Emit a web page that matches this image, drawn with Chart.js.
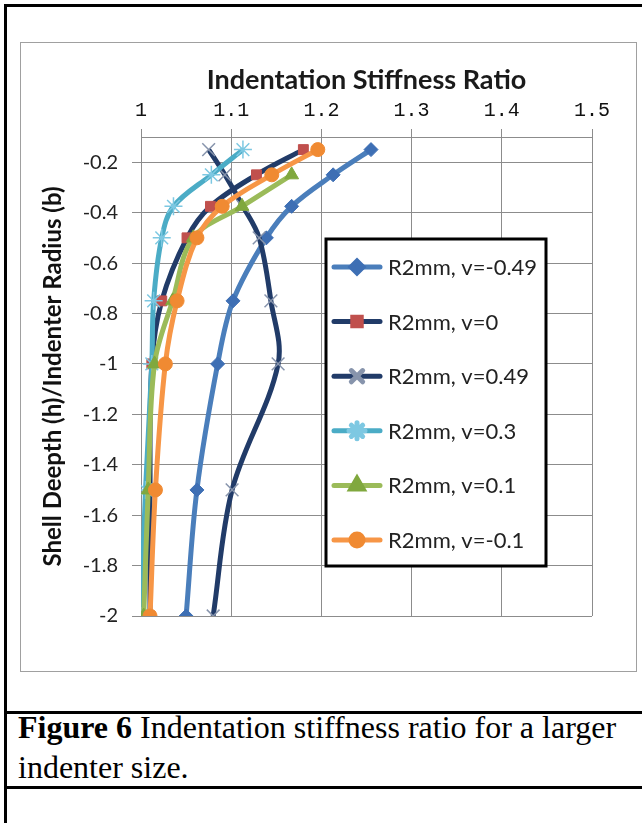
<!DOCTYPE html>
<html>
<head>
<meta charset="utf-8">
<script src="https://cdn.jsdelivr.net/npm/chart.js@4.4.1/dist/chart.umd.min.js"></script>
<style>
  html, body { margin: 0; padding: 0; background: #fff; }
  body { width: 642px; height: 823px; position: relative; overflow: hidden; }
  .frame { position: absolute; left: 4px; top: 4px; width: 800px; height: 900px;
           border-left: 3px solid #000; border-top: 3px solid #000; }
  .rule { position: absolute; left: 4px; width: 800px; height: 3px; background: #000; }
  .box { position: absolute; left: 20px; top: 42px; width: 617px; height: 630px;
         border: 1px solid #a0a0a0; box-sizing: border-box; background: #fff; }
  .box canvas { position: absolute; left: -1px; top: -1px; }
  .caption { position: absolute; left: 18px; top: 707px; font-family: 'Liberation Serif', serif;
             font-size: 32px; line-height: 40px; color: #000; white-space: nowrap; }
</style>
</head>
<body>
<div class="frame"></div>
<div class="box"><canvas id="ratioChart" width="617" height="630"></canvas></div>
<div class="rule" style="top:711px"></div>
<div class="rule" style="top:786px"></div>
<div class="caption"><b>Figure 6</b> Indentation stiffness ratio for a larger<br>indenter size.</div>
<script>
// depth ratio h/b (vertical axis), stiffness ratio per series (horizontal axis)
const depths = [-0.15, -0.25, -0.375, -0.5, -0.75, -1, -1.5, -2];
const ratioVm049 = [1.255, 1.213, 1.167, 1.139, 1.102, 1.085, 1.062, 1.05];
const ratioV0 = [1.18, 1.128, 1.077, 1.051, 1.023, 1.012, 1.01, 1.01];
const ratioV049 = [1.075, 1.093, 1.113, 1.131, 1.144, 1.152, 1.101, 1.08];
const ratioV03 = [1.113, 1.078, 1.036, 1.023, 1.014, 1.012, 1.005, 1.0];
const ratioV01 = [null, 1.167, 1.112, 1.058, 1.035, 1.015, 1.008, 1.003];
const ratioVm01 = [1.196, 1.145, 1.09, 1.062, 1.04, 1.027, 1.016, 1.01];

const seriesNames = ['R2mm, v=-0.49', 'R2mm, v=0', 'R2mm, v=0.49', 'R2mm, v=0.3', 'R2mm, v=0.1', 'R2mm, v=-0.1'];
const xTickValues = [1, 1.1, 1.2, 1.3, 1.4, 1.5];
const yTickValues = [-0.2, -0.4, -0.6, -0.8, -1, -1.2, -1.4, -1.6, -1.8, -2];
const chartTitle = 'Indentation Stiffness Ratio';

const STYLES = [
    { line: 'rgb(74,126,187)', mark: 'rgb(62,111,180)', point: 'rectRot', r: 7, bw: 1 },
    { line: 'rgb(33,59,104)', mark: 'rgb(192,80,77)', point: 'rect', r: 7, bw: 1 },
    { line: 'rgb(33,59,104)', mark: 'rgb(135,148,172)', point: 'crossRot', r: 9, bw: 1.5 },
    { line: 'rgb(75,172,198)', mark: 'rgb(125,200,226)', point: 'star', r: 9, bw: 1.5 },
    { line: 'rgb(155,187,89)', mark: 'rgb(128,168,62)', point: 'triangle', r: 8, bw: 1 },
    { line: 'rgb(247,150,70)', mark: 'rgb(240,138,50)', point: 'circle', r: 7, bw: 1 },
];

const allRatios = [ratioVm049, ratioV0, ratioV049, ratioV03, ratioV01, ratioVm01];

const gridColor = 'rgb(140,140,140)';
const sansFont = 'Lato';

const datasets = allRatios.map((vals, i) => ({
    label: seriesNames[i],
    data: vals.map((x, k) => ({ x, y: depths[k] })).filter(p => p.x !== null),
    borderColor: STYLES[i].line,
    backgroundColor: STYLES[i].mark,
    pointBackgroundColor: STYLES[i].mark,
    pointBorderColor: STYLES[i].mark,
    pointStyle: STYLES[i].point,
    pointRadius: STYLES[i].r,
    pointBorderWidth: STYLES[i].bw,
    borderWidth: 5,
    tension: 0.35,
    fill: false,
    order: -i,
}));

// title centred over the plot, legend box drawn inside the plot
const boxLegend = {
    id: 'boxLegend',
    afterDraw(chart) {
        const ctx = chart.ctx;
        const { left, right, top } = chart.chartArea;
        ctx.save();
        ctx.fillStyle = '#1a1a1a';
        ctx.font = 'bold 27px ' + sansFont;
        ctx.textAlign = 'center';
        ctx.textBaseline = 'middle';
        ctx.fillText(chartTitle, (left + right) / 2, 38);

        const bx = left + 185, by = top + 102, bw = 220, bh = 327;
        ctx.fillStyle = '#fff';
        ctx.fillRect(bx, by, bw, bh);
        ctx.lineWidth = 3;
        ctx.strokeStyle = '#000';
        ctx.strokeRect(bx, by, bw, bh);
        ctx.font = '22px ' + sansFont;
        ctx.textAlign = 'left';
        seriesNames.forEach((name, i) => {
            const y = by + 28 + i * 54.6;
            const st = STYLES[i];
            ctx.strokeStyle = st.line;
            ctx.lineWidth = 5;
            ctx.lineCap = 'round';
            ctx.beginPath();
            ctx.moveTo(bx + 8, y);
            ctx.lineTo(bx + 54, y);
            ctx.stroke();
            ctx.fillStyle = st.mark;
            ctx.strokeStyle = st.mark;
            Chart.helpers.drawPoint(ctx, { pointStyle: st.point, radius: st.r - 1, borderWidth: st.bw, rotation: 0 }, bx + 31, y);
            ctx.fillStyle = '#222';
            ctx.fillText(name, bx + 62, y + 1);
        });
        ctx.restore();
    }
};

new Chart(document.getElementById('ratioChart'), {
    type: 'line',
    data: { datasets },
    plugins: [boxLegend],
    options: {
        responsive: false,
        animation: false,
        layout: { padding: { left: 0, right: 45, top: 50.2, bottom: 56 } },
        plugins: {
            legend: { display: false },
            tooltip: { enabled: false },
            title: { display: false },
        },
        scales: {
            x: {
                type: 'linear',
                position: 'top',
                min: 1,
                max: 1.5,
                afterFit: s => { s.height = 44.8; },
                afterBuildTicks: s => { s.ticks = xTickValues.map(v => ({ value: v })); },
                grid: { color: gridColor, tickLength: 8, tickColor: gridColor },
                border: { color: gridColor },
                ticks: {
                    color: '#111',
                    padding: 6,
                    maxRotation: 0,
                    font: { family: 'Liberation Mono', size: 20 },
                    callback: v => String(Number(v.toFixed(1))),
                },
            },
            y: {
                type: 'linear',
                min: -2,
                max: -0.1,
                afterFit: s => { s.width = 121; },
                afterBuildTicks: s => { s.ticks = yTickValues.map(v => ({ value: v })); },
                grid: { color: gridColor, tickLength: 9, tickColor: gridColor },
                border: { color: gridColor },
                title: {
                    display: true,
                    text: 'Shell Deepth (h)/Indenter Radius (b)',
                    color: '#111',
                    font: { family: sansFont, size: 24, weight: 'bold' },
                    padding: { top: 19, bottom: 0 },
                },
                ticks: {
                    color: '#222',
                    padding: 14,
                    font: { family: sansFont, size: 20 },
                    callback: v => String(Number(v.toFixed(1))),
                },
            },
        },
    },
});
</script>
</body>
</html>
